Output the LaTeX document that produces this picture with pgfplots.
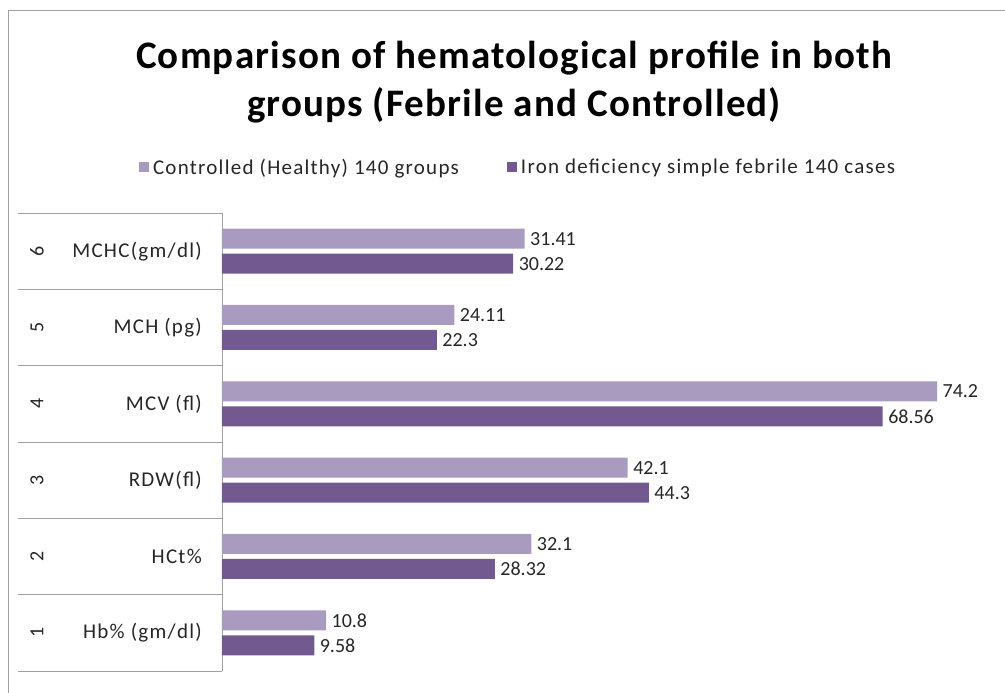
\documentclass[border=0pt]{standalone}
\usepackage{fontspec}
\setmainfont{Carlito}
\newfontfamily\spaced[LetterSpace=6]{Carlito}
\newfontfamily\titlefont[LetterSpace=3]{Carlito}
\usepackage{pgfplots}
\pgfplotsset{compat=1.18}
\definecolor{lightbar}{RGB}{169,155,192}
\definecolor{darkbar}{RGB}{114,89,143}
\definecolor{txt}{RGB}{38,38,38}
\definecolor{frame}{RGB}{160,160,160}
\newcommand{\lbl}{\spaced\fontsize{21}{24}\selectfont}
\newcommand{\num}{\fontsize{20}{24}\selectfont}
\begin{document}
\begin{tikzpicture}[x=1pt,y=1pt]
\path[use as bounding box] (0,0) rectangle (1005,693);
\draw[frame] (8,0) -- (8,683) -- (1005,683);
\node[font=\titlefont\fontsize{39}{48}\selectfont\bfseries, align=center, text=black] at (514,611) {Comparison of hematological profile in both\\groups (Febrile and Controlled)};
\begin{axis}[
  at={(222pt,22pt)}, anchor=south west, scale only axis,
  width=771pt, height=458pt,
  xmin=0, xmax=80, ymin=0.5, ymax=6.5,
  xbar, bar width=20pt,
  clip=false,
  hide x axis,
  axis y line*=left,
  y axis line style={draw=frame, line width=0.8pt},
  ytick={1,2,3,4,5,6},
  yticklabels={Hb\% (gm/dl), HCt\%, RDW(fl), MCV (fl), MCH (pg), MCHC(gm/dl)},
  major tick length=0pt,
  yticklabel style={font=\lbl, text=txt, anchor=east, inner sep=0pt, xshift=-20pt},
  /pgf/number format/assume math mode=true,
  nodes near coords={\pgfmathprintnumber[fixed,precision=2]{\pgfplotspointmeta}},
  every node near coord/.append style={font=\num, text=txt, anchor=west, xshift=2pt},
  legend columns=2,
  legend style={draw=none, fill=none, at={(0.384,1.100)}, anchor=center, font=\lbl, text=txt,
    /tikz/every even column/.append style={column sep=46pt}},
  legend image code/.code={\fill[#1] (0pt,-5pt) rectangle (10pt,5pt);},
]
\addplot[fill=lightbar, draw=none, bar shift=12.5pt] coordinates {
 (10.8,1) (32.1,2) (42.1,3) (74.2,4) (24.11,5) (31.41,6)};
\addplot[fill=darkbar, draw=none, bar shift=-12.5pt] coordinates {
 (9.58,1) (28.32,2) (44.3,3) (68.56,4) (22.3,5) (30.22,6)};
\legend{\hspace{2pt}Controlled (Healthy) 140 groups, \hspace{2pt}Iron deficiency simple febrile 140 cases}
\draw[frame, line width=0.8pt] ([xshift=-204pt]axis cs:0,0.5) -- (axis cs:0,0.5);
\draw[frame, line width=0.8pt] ([xshift=-204pt]axis cs:0,1.5) -- (axis cs:0,1.5);
\draw[frame, line width=0.8pt] ([xshift=-204pt]axis cs:0,2.5) -- (axis cs:0,2.5);
\draw[frame, line width=0.8pt] ([xshift=-204pt]axis cs:0,3.5) -- (axis cs:0,3.5);
\draw[frame, line width=0.8pt] ([xshift=-204pt]axis cs:0,4.5) -- (axis cs:0,4.5);
\draw[frame, line width=0.8pt] ([xshift=-204pt]axis cs:0,5.5) -- (axis cs:0,5.5);
\draw[frame, line width=0.8pt] ([xshift=-204pt]axis cs:0,6.5) -- (axis cs:0,6.5);
\node[rotate=90, font=\num, text=txt] at ([xshift=-185pt]axis cs:0,1) {1};
\node[rotate=90, font=\num, text=txt] at ([xshift=-185pt]axis cs:0,2) {2};
\node[rotate=90, font=\num, text=txt] at ([xshift=-185pt]axis cs:0,3) {3};
\node[rotate=90, font=\num, text=txt] at ([xshift=-185pt]axis cs:0,4) {4};
\node[rotate=90, font=\num, text=txt] at ([xshift=-185pt]axis cs:0,5) {5};
\node[rotate=90, font=\num, text=txt] at ([xshift=-185pt]axis cs:0,6) {6};
\end{axis}
\end{tikzpicture}
\end{document}
